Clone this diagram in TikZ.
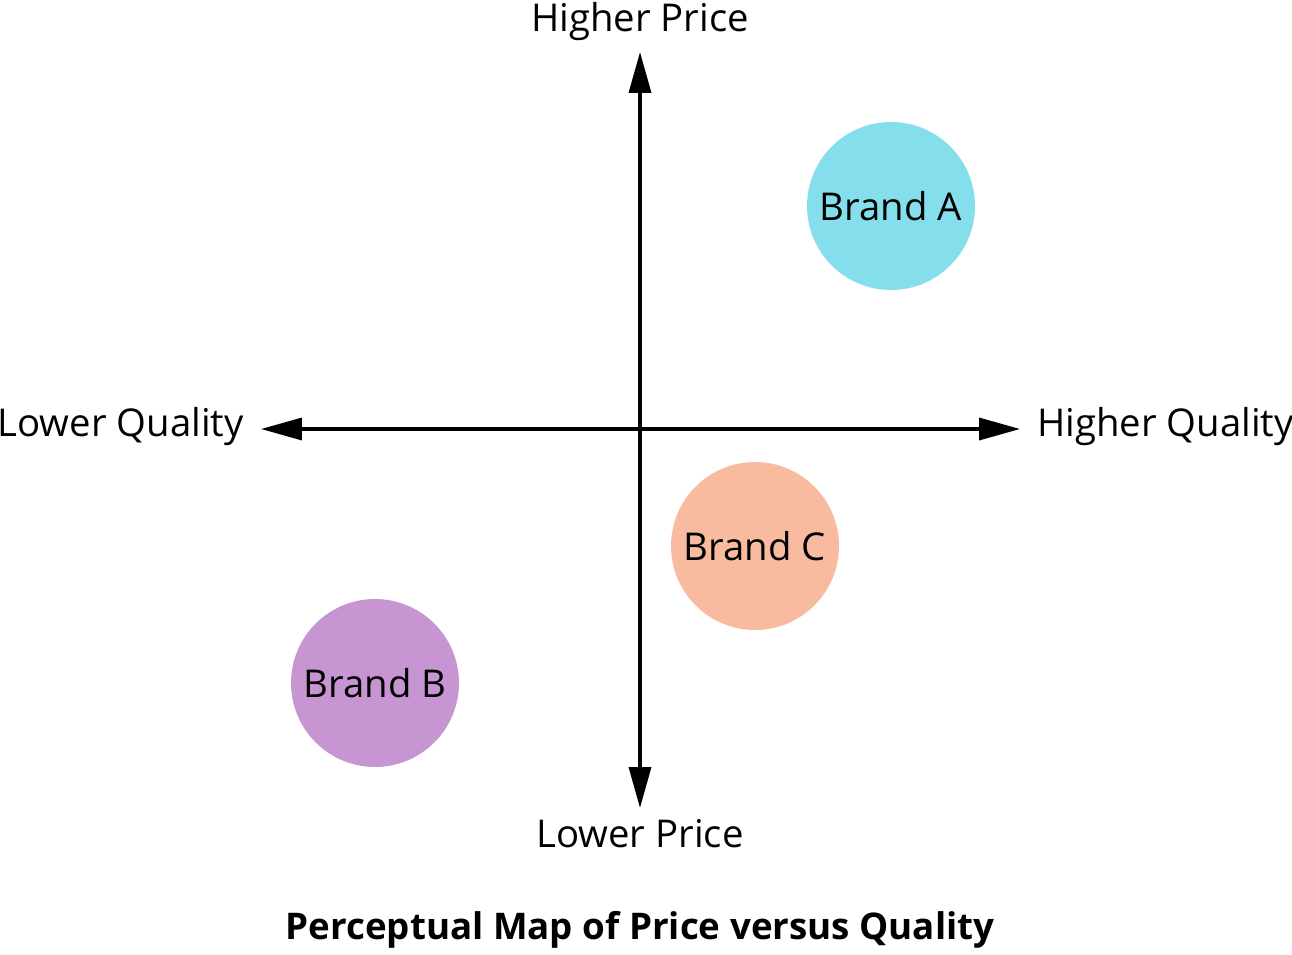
\documentclass[tikz,border=0pt]{standalone}
\usepackage{fontspec}
\setmainfont{Open Sans}
\usetikzlibrary{arrows.meta}
\definecolor{brandA}{HTML}{84DEEB}
\definecolor{brandB}{HTML}{C795D2}
\definecolor{brandC}{HTML}{F9BBA0}
\begin{document}
\begin{tikzpicture}[x=0.02cm, y=-0.02cm,
    axis/.style={line width=2pt, -{Triangle[length=0.82cm, width=0.44cm]}},
    brand/.style={circle, minimum size=3.36cm, inner sep=0pt},
    every node/.style={font=\fontsize{21.8}{26}\selectfont}]
        \useasboundingbox (0,0) rectangle (1292,954);
        \coordinate (o) at (640,429);
        % axis ends
        \coordinate (top) at (640,52);
        \coordinate (bottom) at (640,808);
        \coordinate (left) at (261,429);
        \coordinate (right) at (1020,429);
        % axis labels
        \node (hp) at (640,22) {Higher Price};
        \node (lp) at (640,834) {Lower Price};
        \node[anchor=east, inner sep=0pt] (lq) at (244,427) {Lower Quality};
        \node[anchor=west, inner sep=0pt] (hq) at (1037,427) {Higher Quality};
        % brands
        \node[brand, fill=brandA] (a) at (891,206) {Brand A};
        \node[brand, fill=brandC] (c) at (755,546) {Brand C};
        \node[brand, fill=brandB] (b) at (375,683) {Brand B};
        % title
        \node[font=\fontsize{20.9}{25}\selectfont\bfseries] (title) at (640,930) {Perceptual Map of Price versus Quality};

        \draw[axis] (o) -- (top);
        \draw[axis] (o) -- (bottom);
        \draw[axis] (o) -- (left);
        \draw[axis] (o) -- (right);
    \end{tikzpicture}
\end{document}
